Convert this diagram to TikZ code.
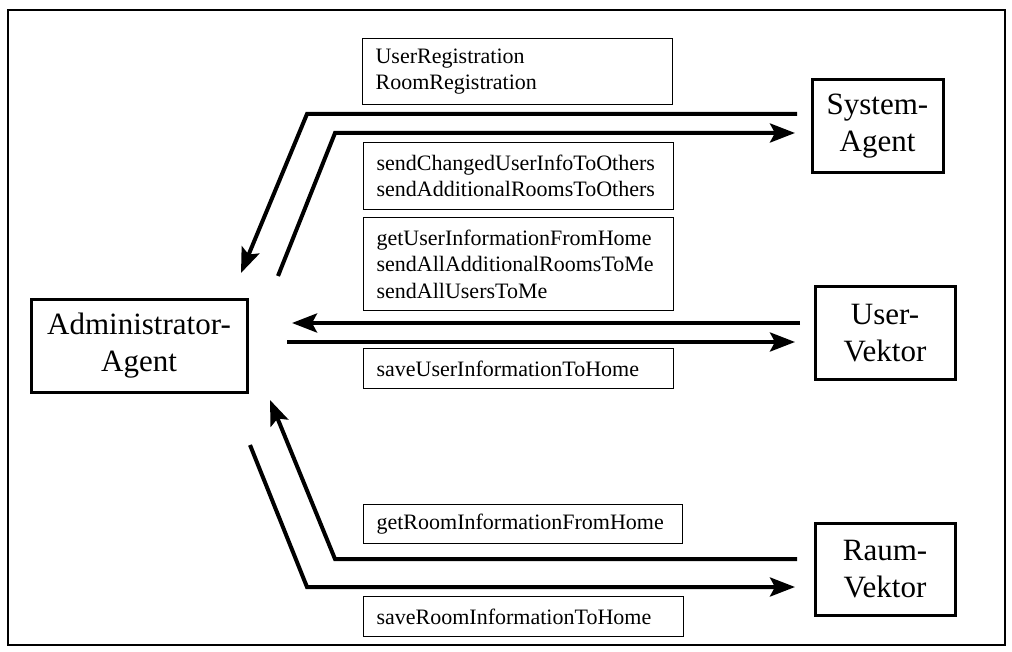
\documentclass[tikz,border=0pt]{standalone}
\usepackage{fontspec}
\setmainfont{Liberation Serif}
\usetikzlibrary{arrows.meta}
\begin{document}
\begin{tikzpicture}[x=1pt,y=-1pt,
  agent/.style={draw, line width=3pt, inner sep=0pt, align=center,
    font=\fontsize{31}{37}\selectfont},
  msg/.style={draw, line width=1.2pt, anchor=north west, inner xsep=13pt,
    inner ysep=0pt, align=left, font=\fontsize{22}{26.4}\selectfont},
  flow/.style={line width=4pt, line join=miter,
    -{Stealth[length=25pt,width=19pt,inset=5pt]}},
  lane/.style={line width=4pt}]
\useasboundingbox (0,0) rectangle (1012,652);
\draw[line width=1.5pt] (8,10) rectangle (1005,645);

% agents
\node[agent, minimum width=216pt, minimum height=92pt] (admin) at (139,346) {Administrator-\\Agent};
\node[agent, minimum width=131pt, minimum height=93pt] (sys) at (877.5,126.5) {System-\\Agent};
\node[agent, minimum width=140pt, minimum height=92pt] (user) at (885,333) {User-\\Vektor};
\node[agent, minimum width=140pt, minimum height=92pt] (raum) at (885,569) {Raum-\\Vektor};

% message lists
\node[msg, text width=284pt, minimum height=66pt] (m1) at (362,38) {UserRegistration\\RoomRegistration};
\node[msg, text width=284pt, minimum height=67pt] (m2) at (363,142) {sendChangedUserInfoToOthers\\sendAdditionalRoomsToOthers};
\node[msg, text width=284pt, minimum height=93pt] (m3) at (363,217) {getUserInformationFromHome\\sendAllAdditionalRoomsToMe\\sendAllUsersToMe};
\node[msg, text width=284pt, minimum height=40pt] (m4) at (363,348) {saveUserInformationToHome};
\node[msg, text width=293pt, minimum height=39pt] (m5) at (363,504) {getRoomInformationFromHome};
\node[msg, text width=294pt, minimum height=40pt] (m6) at (363,596) {saveRoomInformationToHome};

% connector points
\coordinate (sA) at (797,114);
\coordinate (sB) at (307,114);
\coordinate (sC) at (241,273);
\coordinate (sD) at (278,276);
\coordinate (sE) at (335,133);
\coordinate (sF) at (795,133);
\coordinate (uA) at (800,323);
\coordinate (uB) at (292,323);
\coordinate (uC) at (287,342);
\coordinate (uD) at (795,342);
\coordinate (rA) at (797,559);
\coordinate (rB) at (335,559);
\coordinate (rC) at (270,400);
\coordinate (rD) at (250,445);
\coordinate (rE) at (307,587);
\coordinate (rF) at (795,587);

% System-Agent <-> Administrator-Agent
\draw[flow] (sA) -- (sB) -- (sC);
\draw[flow] (sD) -- (sE) -- (sF);
% User-Vektor <-> Administrator-Agent
\draw[flow] (uA) -- (uB);
\draw[flow] (uC) -- (uD);
% Raum-Vektor <-> Administrator-Agent
\draw[flow] (rA) -- (rB) -- (rC);
\draw[flow] (rD) -- (rE) -- (rF);
\end{tikzpicture}
\end{document}
